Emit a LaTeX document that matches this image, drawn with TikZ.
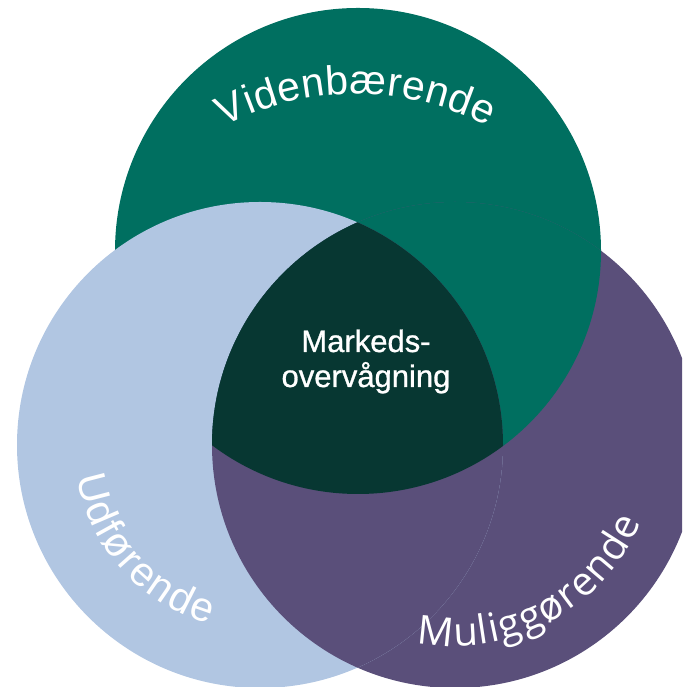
\documentclass[tikz,border=0pt]{standalone}
\usepackage{fontspec}
\usetikzlibrary{decorations.text}
\newfontfamily\arialf{Liberation Sans}
\newfontfamily\centerf{Liberation Sans}[FakeBold=0.9]
\newfontfamily\opensf{Open Sans}
\definecolor{cgreen}{RGB}{0,111,96}
\definecolor{cdark}{RGB}{7,55,50}
\definecolor{cblue}{RGB}{177,198,226}
\definecolor{cpurple}{RGB}{90,79,122}
\tikzset{
  curvedlabel/.style={decoration={text along path, text={#1}, text align=fit to path, text color=white}, decorate}
}
\begin{document}
\begin{tikzpicture}[x=1pt,y=1pt]
\useasboundingbox (0,0) rectangle (682,687);
\clip (0,0) rectangle (682,687);
\coordinate (cg) at (358,436);
\coordinate (cb) at (260,242);
\coordinate (cp) at (455,242);
\def\R{243}
% base fills
\fill[cgreen] (cg) circle[radius=\R];
\fill[cpurple] (cp) circle[radius=\R];
\fill[cblue] (cb) circle[radius=\R];
% green over purple
\begin{scope}
  \clip (cp) circle[radius=\R];
  \fill[cgreen] (cg) circle[radius=\R];
\end{scope}
% purple over blue
\begin{scope}
  \clip (cb) circle[radius=\R];
  \fill[cpurple] (cp) circle[radius=\R];
\end{scope}
% centre
\begin{scope}
  \clip (cg) circle[radius=\R];
  \clip (cb) circle[radius=\R];
  \fill[cdark] (cp) circle[radius=\R];
\end{scope}
% curved labels
\coordinate (cv) at (356,307);
\path[curvedlabel={|\arialf\fontsize{41}{47}\selectfont|Videnbærende}]
  ([shift={(117.5:286)}]cv) arc[start angle=117.5, end angle=62.5, radius=286];
\path[curvedlabel={|\arialf\fontsize{41}{48}\selectfont|Udførende}]
  ([shift={(190:186)}]cb) arc[start angle=190, end angle=254, radius=186];
\path[curvedlabel={|\opensf\fontsize{40}{46}\selectfont|Muliggørende}]
  ([shift={(259:201)}]cp) arc[start angle=259, end angle=337.5, radius=201];
% centre text
\node[text=white, font=\centerf\fontsize{31}{35}\selectfont, align=center, anchor=base] (mark) at (366,300) {Markeds-\\overvågning};
\end{tikzpicture}
\end{document}
